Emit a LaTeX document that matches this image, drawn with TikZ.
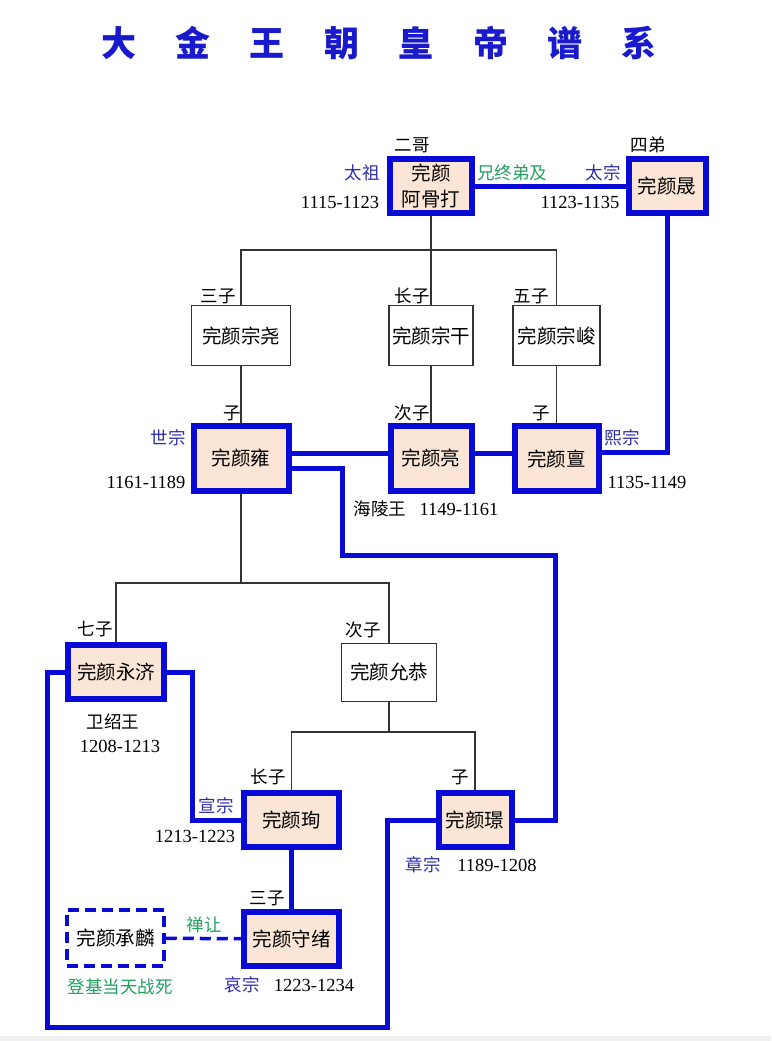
\documentclass[tikz,border=0pt]{standalone}
\usepackage{fontspec}
\setmainfont{Noto Sans CJK SC}
\newfontfamily\yearfont{Liberation Serif}
\usetikzlibrary{positioning}
\usetikzlibrary{calc}

\definecolor{linkblue}{RGB}{10,10,215}
\definecolor{nameblue}{RGB}{45,45,170}
\definecolor{notegreen}{RGB}{35,160,95}
\definecolor{boxfill}{RGB}{251,229,214}
\definecolor{titleblue}{RGB}{25,25,205}

\begin{document}
\begin{tikzpicture}[x=1pt,y=-1pt,
  emperor/.style={draw=linkblue,line width=6pt,fill=boxfill,inner sep=0pt,align=center,font=\fontsize{19.5}{26}\selectfont},
  prince/.style={draw=black!80,line width=1.2pt,fill=white,inner sep=0pt,font=\fontsize{19.5}{26}\selectfont},
  heir/.style={draw=linkblue,line width=3.5pt,dash pattern=on 11pt off 6pt,inner sep=0pt,font=\fontsize{19.5}{26}\selectfont},
  lbl/.style={inner sep=0pt,font=\fontsize{17.5}{20}\selectfont},
  reign/.style={lbl,text=nameblue},
  note/.style={lbl,text=notegreen},
  yr/.style={inner sep=0pt,font=\yearfont\fontsize{18.5}{20}\selectfont},
  link/.style={draw=linkblue,line width=5pt},
  kin/.style={draw=black!80,line width=1.3pt}]
\useasboundingbox (0,0) rectangle (771,1041);
\fill[white] (0,0) rectangle (771,1041);
\fill[black!6] (0,1036) rectangle (771,1041);

\node[inner sep=0pt,text=titleblue,font=\fontsize{35}{38}\selectfont\bfseries](title) at (379,43)
  {大\hspace{39.4pt}金\hspace{39.4pt}王\hspace{39.4pt}朝\hspace{39.4pt}皇\hspace{39.4pt}帝\hspace{39.4pt}谱\hspace{39.4pt}系};

% boxes
\node[emperor,minimum width=82pt,minimum height=54pt](agd) at (431,186){完颜\\阿骨打};
\node[emperor,minimum width=77pt,minimum height=54pt](sheng) at (667,186){完颜晟};
\node[prince,minimum width=99pt,minimum height=60pt](zongyao) at (241,335.5){完颜宗尧};
\node[prince,minimum width=84pt,minimum height=60pt](zonggan) at (431,335.5){完颜宗干};
\node[prince,minimum width=87pt,minimum height=60pt](zongjun) at (556.5,335.5){完颜宗峻};
\node[emperor,minimum width=95pt,minimum height=65pt](yong) at (241,458.5){完颜雍};
\node[emperor,minimum width=81pt,minimum height=65pt](liang) at (431,458.5){完颜亮};
\node[emperor,minimum width=84pt,minimum height=65pt](dan) at (556.5,458.5){完颜亶};
\node[emperor,minimum width=96pt,minimum height=54pt](yongji) at (116,672){完颜永济};
\node[prince,minimum width=95pt,minimum height=58pt](yungong) at (389,672.5){完颜允恭};
\node[emperor,minimum width=95pt,minimum height=54pt](xun) at (291.5,820){完颜珣};
\node[emperor,minimum width=73pt,minimum height=54pt](jing) at (475,820){完颜璟};
\node[emperor,minimum width=95pt,minimum height=54pt](shouxu) at (291.5,939){完颜守绪};
\node[heir,minimum width=97pt,minimum height=56pt](chenglin) at (115.5,938){完颜承麟};

% labels
\node[lbl](ergelbl) at (412,145){二哥};
\node[reign](taizu) at (362,173){太祖};
\node[yr](taizuyr) at (340,202){1115-1123};
\node[note](xiongzhong) at (512,173){兄终弟及};
\node[reign](taizong) at (603,173){太宗};
\node[yr](taizongyr) at (580,202){1123-1135};
\node[lbl](sidilbl) at (648,145){四弟};
\node[lbl](sanzilbl) at (218,296){三子};
\node[lbl](zhangzilbl) at (412,296){长子};
\node[lbl](wuzilbl) at (531,296){五子};
\node[lbl](yongzilbl) at (232,413){子};
\node[lbl](cizilbl) at (412,413){次子};
\node[lbl](danzilbl) at (541,413){子};
\node[reign](shizong) at (168,438){世宗};
\node[yr](shizongyr) at (146,482){1161-1189};
\node[reign](xizong) at (622,438){熙宗};
\node[yr](xizongyr) at (647,482){1135-1149};
\node[lbl](hailing) at (380,509){海陵王};
\node[yr](hailingyr) at (459,509){1149-1161};
\node[lbl](qizilbl) at (95,629){七子};
\node[lbl](gongzilbl) at (363,630){次子};
\node[lbl](weishao) at (113,722){卫绍王};
\node[yr](weishaoyr) at (120,746){1208-1213};
\node[lbl](xunzilbl) at (268,777){长子};
\node[lbl](jingzilbl) at (460,777){子};
\node[reign](xuanzong) at (216,806){宣宗};
\node[yr](xuanzongyr) at (195,836){1213-1223};
\node[reign](zhangzong) at (423,865){章宗};
\node[yr](zhangzongyr) at (497,865){1189-1208};
\node[lbl](shouzilbl) at (267,898){三子};
\node[note](shanrang) at (204,925){禅让};
\node[note](dengji) at (120,987){登基当天战死};
\node[reign](aizong) at (242,985){哀宗};
\node[yr](aizongyr) at (314,985){1223-1234};

% family lines
\coordinate (gen1) at (0,250);
\coordinate (gen3) at (0,583);
\coordinate (gen4) at (0,732);
\draw[kin] (agd.south) -- (agd.south |- gen1);
\draw[kin] (zongyao.north) |- (zongjun.north |- gen1) -- (zongjun.north);
\draw[kin] (zonggan.north) -- (zonggan.north |- gen1);
\path
(zongyao) edge[kin] (yong)
(zonggan) edge[kin] (liang)
(zongjun) edge[kin] (dan);
\draw[kin] (yong.south) -- (yong.south |- gen3);
\draw[kin] (yongji.north) |- (yungong.north |- gen3) -- (yungong.north);
\draw[kin] (yungong.south) -- (yungong.south |- gen4);
\draw[kin] (xun.north) |- (jing.north |- gen4) -- (jing.north);

% succession
\coordinate (zhangA) at (342,555);
\coordinate (zhangB) at (555,820);
\coordinate (loopA) at (387,1027);
\coordinate (loopB) at (47,672);
\coordinate (xuanA) at (192,820);
\path (agd) edge[link] (sheng);
\draw[link] (sheng.south) |- ([yshift=6pt]dan.east);
\draw[link] ([yshift=5pt]dan.west) -- ([yshift=5pt]liang.east);
\draw[link] ([yshift=5pt]liang.west) -- ([yshift=5pt]yong.east);
\draw[link] ([yshift=-10pt]yong.east) -| (zhangA) -| (zhangB) -- (jing.east);
\draw[link] (jing.west) -| (loopA) -| (loopB) -- (yongji.west);
\draw[link] (yongji.east) -| (xuanA) -- (xun.west);
\path (xun) edge[link] (shouxu);
\path (chenglin) edge[link,line width=3.5pt,dash pattern=on 11pt off 6pt] (shouxu);
\end{tikzpicture}
\end{document}
